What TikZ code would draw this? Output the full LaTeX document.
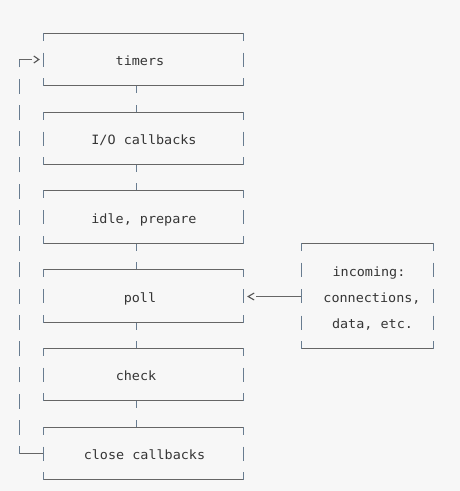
\documentclass[tikz,border=0pt]{standalone}
\usepackage{fontspec}
\newfontfamily\codefont{DejaVu Sans Mono}[FakeStretch=1.05]
\definecolor{bgc}{HTML}{F7F7F7}
\definecolor{hcol}{HTML}{666666}
\definecolor{vcol}{HTML}{687C90}
\definecolor{txtc}{HTML}{353535}
\tikzset{
  hseg/.style={draw=hcol, line width=1.3pt},
  vseg/.style={draw=vcol, line width=1.3pt},
  chevron/.style={draw=txtc!85, line width=1.1pt},
  lbl/.style={font=\codefont\fontsize{12.8}{15}\selectfont, text=txtc, inner sep=0pt, anchor=base},
  stage/.style={inner sep=0pt, minimum width=200pt},
  inbox/.style={inner sep=0pt, minimum width=132pt, minimum height=105pt},
}
\newcommand\asciiframe[2]{% #1 node name, #2 list of text-row offsets from centre
  \draw[hseg] (#1.north west) -- (#1.north east);
  \draw[hseg] (#1.south west) -- (#1.south east);
  \draw[vseg] (#1.north west) -- ++(0,7.5) (#1.north east) -- ++(0,7.5);
  \draw[vseg] (#1.south west) -- ++(0,-7.5) (#1.south east) -- ++(0,-7.5);
  \foreach \dy in {#2}{
    \draw[vseg] ([yshift=-\dy pt]#1.west) ++(0,-7) -- ++(0,14);
    \draw[vseg] ([yshift=-\dy pt]#1.east) ++(0,-7) -- ++(0,14);
  }
}
\begin{document}
\begin{tikzpicture}[x=1pt,y=-1pt]
  \fill[bgc] (0,0) rectangle (460,491);
  \useasboundingbox (0,0) rectangle (460,491);

  % stage frames
  \node[stage, minimum height=52pt] (timers) at (143.5,59.5) {};
  \node[stage, minimum height=52pt] (io)     at (143.5,138.5) {};
  \node[stage, minimum height=53pt] (idle)   at (143.5,217) {};
  \node[stage, minimum height=53pt] (poll)   at (143.5,296) {};
  \node[stage, minimum height=52pt] (check)  at (143.5,374.5) {};
  \node[stage, minimum height=52pt] (close)  at (143.5,453.5) {};
  \node[inbox] (incoming) at (367.5,296) {};

  \foreach \n in {timers,io,idle,poll,check,close}{\asciiframe{\n}{0}}
  \asciiframe{incoming}{-26.5,0,26.5}

  % labels
  \node[lbl] (ltimers) at (140,65.5)   {timers};
  \node[lbl] (lio)     at (144,144.5)  {I/O callbacks};
  \node[lbl] (lidle)   at (144,223)    {idle, prepare};
  \node[lbl] (lpoll)   at (140,302)    {poll};
  \node[lbl] (lcheck)  at (136,380.5)  {check};
  \node[lbl] (lclose)  at (144.5,459.5) {close callbacks};
  \node[lbl] (lin1)    at (369,276)    {incoming:};
  \node[lbl] (lin2)    at (372,302)    {connections,};
  \node[lbl] (lin3)    at (372.5,328.5) {data, etc.};

  % connectors between stages
  \foreach \a/\b in {timers/io,io/idle,idle/poll,poll/check,check/close}{
    \draw[vseg] ([xshift=-7pt]\a.south) -- ++(0,7.5);
    \draw[vseg] ([xshift=-7pt]\b.north) -- ++(0,-7.5);
  }

  % loop back from close callbacks to timers
  \coordinate (loopTop) at ([xshift=-24pt]timers.west);
  \coordinate (loopBot) at ([xshift=-24pt]close.west);
  \draw[hseg] (close.west) -- (loopBot);
  \draw[vseg, dash pattern=on 15pt off 11.25pt, dash phase=7.5pt] (loopBot) -- (loopTop);
  \draw[hseg] (loopTop) -- ([xshift=-11pt]timers.west);
  \draw[chevron] ([xshift=-9.5pt,yshift=3.5pt]timers.west) -- ([xshift=-4.5pt]timers.west) -- ([xshift=-9.5pt,yshift=-3.5pt]timers.west);

  % incoming -> poll
  \draw[hseg] ([yshift=-0.5pt]incoming.west) -- ([xshift=12pt,yshift=-0.5pt]poll.east);
  \draw[chevron] ([xshift=10.5pt,yshift=3pt]poll.east) -- ([xshift=4.5pt,yshift=-0.5pt]poll.east) -- ([xshift=10.5pt,yshift=-4pt]poll.east);
\end{tikzpicture}
\end{document}
